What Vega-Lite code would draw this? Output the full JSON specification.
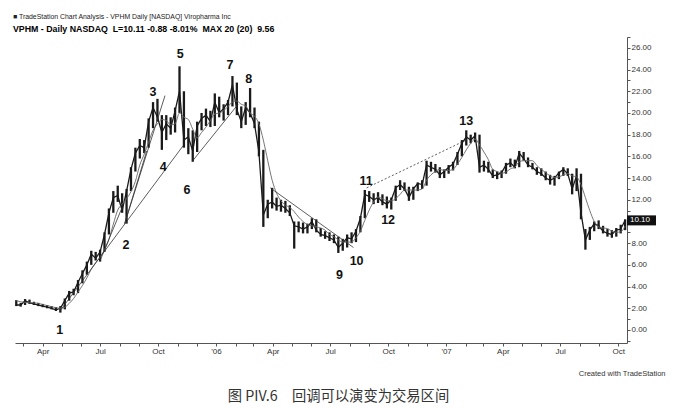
{
"$schema":"https://vega.github.io/schema/vega-lite/v6.json",
"width":612,"height":306,
"autosize":{"type":"none"},
"padding":{"left":15,"top":37,"right":46,"bottom":65},
"background":"white",
"config":{"view":{"stroke":null},"font":"Liberation Sans"},
"title":{"text":"■ TradeStation Chart Analysis - VPHM Daily [NASDAQ] Viropharma Inc","subtitle":"VPHM - Daily NASDAQ \u00a0L=10.11 -0.88 -8.01% \u00a0MAX 20 (20) \u00a09.56","anchor":"start","frame":"group","font":"Liberation Sans","fontSize":6.9,"fontWeight":"normal","color":"#222","subtitleFont":"Liberation Sans","subtitleFontSize":8.8,"subtitleFontWeight":"bold","subtitleColor":"#000","subtitlePadding":4,"offset":2,"dx":-2},
"resolve":{"axis":{"x":"independent","y":"independent"}},
"datasets":{
"prices":[
{"d":"2005-02-18","h":2.75,"l":2.2,"c":2.3,"m":2.7},
{"d":"2005-02-25","h":2.5,"l":2.15,"c":2.3,"m":2.6},
{"d":"2005-03-04","h":2.85,"l":2.3,"c":2.7,"m":2.55},
{"d":"2005-03-11","h":2.8,"l":2.4,"c":2.5,"m":2.5},
{"d":"2005-03-18","h":2.6,"l":2.3,"c":2.4,"m":2.5},
{"d":"2005-03-25","h":2.5,"l":2.2,"c":2.3,"m":2.45},
{"d":"2005-04-01","h":2.4,"l":2.1,"c":2.2,"m":2.35},
{"d":"2005-04-08","h":2.3,"l":2.0,"c":2.1,"m":2.25},
{"d":"2005-04-15","h":2.2,"l":1.9,"c":2.0,"m":2.15},
{"d":"2005-04-22","h":2.1,"l":1.75,"c":1.85,"m":2.05},
{"d":"2005-04-29","h":2.2,"l":1.6,"c":2.0,"m":2.0},
{"d":"2005-05-06","h":2.9,"l":1.9,"c":2.7,"m":2.1},
{"d":"2005-05-13","h":3.6,"l":2.7,"c":3.4,"m":2.45},
{"d":"2005-05-20","h":3.8,"l":3.2,"c":3.5,"m":2.9},
{"d":"2005-05-27","h":4.6,"l":3.4,"c":4.4,"m":3.5},
{"d":"2005-06-03","h":5.5,"l":4.3,"c":5.2,"m":4.1},
{"d":"2005-06-10","h":6.3,"l":5.1,"c":6.0,"m":4.8},
{"d":"2005-06-17","h":7.3,"l":6.0,"c":7.0,"m":5.6},
{"d":"2005-06-24","h":7.2,"l":6.4,"c":6.6,"m":6.2},
{"d":"2005-07-01","h":7.4,"l":6.3,"c":7.2,"m":6.7},
{"d":"2005-07-08","h":9.0,"l":7.2,"c":8.8,"m":7.4},
{"d":"2005-07-15","h":11.2,"l":8.8,"c":10.8,"m":8.35},
{"d":"2005-07-22","h":12.8,"l":10.8,"c":12.2,"m":9.75},
{"d":"2005-07-29","h":13.3,"l":11.8,"c":12.4,"m":11.05},
{"d":"2005-08-05","h":12.6,"l":10.8,"c":11.0,"m":11.6},
{"d":"2005-08-12","h":13.0,"l":9.8,"c":12.8,"m":12.1},
{"d":"2005-08-19","h":15.0,"l":12.8,"c":14.8,"m":12.75},
{"d":"2005-08-26","h":16.8,"l":14.6,"c":16.3,"m":13.7},
{"d":"2005-09-02","h":17.6,"l":15.8,"c":17.0,"m":15.2},
{"d":"2005-09-09","h":17.5,"l":16.3,"c":16.8,"m":16.2},
{"d":"2005-09-16","h":19.5,"l":16.8,"c":19.2,"m":17.3},
{"d":"2005-09-23","h":21.0,"l":18.6,"c":20.5,"m":18.4},
{"d":"2005-09-30","h":21.3,"l":19.2,"c":19.6,"m":19.0},
{"d":"2005-10-07","h":19.8,"l":16.6,"c":18.2,"m":19.4},
{"d":"2005-10-14","h":19.8,"l":17.5,"c":19.0,"m":19.3},
{"d":"2005-10-21","h":19.6,"l":18.0,"c":18.6,"m":18.9},
{"d":"2005-10-28","h":20.5,"l":18.2,"c":20.2,"m":19.0},
{"d":"2005-11-04","h":24.3,"l":20.0,"c":22.0,"m":20.0},
{"d":"2005-11-11","h":22.0,"l":16.8,"c":17.5,"m":19.6},
{"d":"2005-11-18","h":18.6,"l":16.2,"c":17.8,"m":19.4},
{"d":"2005-11-25","h":18.4,"l":15.5,"c":16.5,"m":18.5},
{"d":"2005-12-02","h":19.2,"l":16.4,"c":18.8,"m":17.7},
{"d":"2005-12-09","h":20.0,"l":18.4,"c":19.5,"m":18.2},
{"d":"2005-12-16","h":20.4,"l":18.8,"c":19.8,"m":18.7},
{"d":"2005-12-23","h":20.2,"l":18.7,"c":19.2,"m":19.3},
{"d":"2005-12-30","h":21.8,"l":18.8,"c":21.0,"m":19.9},
{"d":"2006-01-06","h":21.5,"l":19.6,"c":20.0,"m":20.0},
{"d":"2006-01-13","h":20.8,"l":19.3,"c":20.4,"m":20.2},
{"d":"2006-01-20","h":21.2,"l":19.8,"c":21.0,"m":20.6},
{"d":"2006-01-27","h":23.4,"l":20.6,"c":22.6,"m":21.0},
{"d":"2006-02-03","h":22.8,"l":19.8,"c":20.3,"m":21.1},
{"d":"2006-02-10","h":20.6,"l":18.6,"c":19.2,"m":20.8},
{"d":"2006-02-17","h":21.0,"l":18.9,"c":20.5,"m":20.65},
{"d":"2006-02-24","h":22.3,"l":19.6,"c":20.0,"m":20.0},
{"d":"2006-03-03","h":20.5,"l":18.6,"c":19.0,"m":19.7},
{"d":"2006-03-10","h":19.2,"l":16.0,"c":16.4,"m":19.0},
{"d":"2006-03-17","h":16.6,"l":9.5,"c":10.6,"m":17.5},
{"d":"2006-03-24","h":12.0,"l":10.3,"c":11.6,"m":15.6},
{"d":"2006-03-31","h":13.1,"l":11.2,"c":11.8,"m":13.8},
{"d":"2006-04-07","h":12.2,"l":11.0,"c":11.4,"m":12.6},
{"d":"2006-04-14","h":12.0,"l":10.9,"c":11.5,"m":11.9},
{"d":"2006-04-21","h":11.9,"l":10.8,"c":11.2,"m":11.5},
{"d":"2006-04-28","h":11.5,"l":10.5,"c":10.8,"m":11.3},
{"d":"2006-05-05","h":10.0,"l":7.5,"c":9.6,"m":10.9},
{"d":"2006-05-12","h":10.0,"l":9.0,"c":9.5,"m":10.4},
{"d":"2006-05-19","h":9.9,"l":8.9,"c":9.3,"m":10.0},
{"d":"2006-05-26","h":9.8,"l":8.9,"c":9.5,"m":9.7},
{"d":"2006-06-02","h":10.3,"l":9.3,"c":10.0,"m":9.6},
{"d":"2006-06-09","h":10.2,"l":9.0,"c":9.2,"m":9.5},
{"d":"2006-06-16","h":9.4,"l":8.6,"c":8.8,"m":9.4},
{"d":"2006-06-23","h":9.1,"l":8.4,"c":8.7,"m":9.2},
{"d":"2006-06-30","h":9.0,"l":8.2,"c":8.5,"m":8.8},
{"d":"2006-07-07","h":8.8,"l":8.0,"c":8.3,"m":8.6},
{"d":"2006-07-14","h":8.6,"l":7.1,"c":7.6,"m":8.3},
{"d":"2006-07-21","h":8.4,"l":7.3,"c":8.0,"m":8.1},
{"d":"2006-07-28","h":8.8,"l":7.6,"c":8.5,"m":8.1},
{"d":"2006-08-04","h":9.0,"l":8.0,"c":8.4,"m":8.1},
{"d":"2006-08-11","h":9.3,"l":8.1,"c":9.1,"m":8.5},
{"d":"2006-08-18","h":10.5,"l":9.0,"c":10.3,"m":9.1},
{"d":"2006-08-25","h":12.9,"l":10.3,"c":12.5,"m":10.1},
{"d":"2006-09-01","h":12.8,"l":11.8,"c":12.3,"m":11.05},
{"d":"2006-09-08","h":12.6,"l":11.6,"c":12.0,"m":11.8},
{"d":"2006-09-15","h":12.7,"l":11.7,"c":12.2,"m":12.25},
{"d":"2006-09-22","h":12.5,"l":11.5,"c":11.8,"m":12.1},
{"d":"2006-09-29","h":12.3,"l":11.2,"c":11.6,"m":11.9},
{"d":"2006-10-06","h":12.2,"l":11.1,"c":12.0,"m":11.9},
{"d":"2006-10-13","h":13.3,"l":11.9,"c":13.1,"m":12.1},
{"d":"2006-10-20","h":13.8,"l":12.9,"c":13.4,"m":12.5},
{"d":"2006-10-27","h":13.6,"l":12.8,"c":13.0,"m":12.9},
{"d":"2006-11-03","h":13.2,"l":11.9,"c":12.2,"m":12.9},
{"d":"2006-11-10","h":13.2,"l":12.0,"c":13.0,"m":12.9},
{"d":"2006-11-17","h":13.6,"l":12.8,"c":13.5,"m":12.9},
{"d":"2006-11-24","h":13.8,"l":13.0,"c":13.4,"m":13.0},
{"d":"2006-12-01","h":15.6,"l":13.3,"c":15.2,"m":13.8},
{"d":"2006-12-08","h":15.5,"l":14.6,"c":15.0,"m":14.3},
{"d":"2006-12-15","h":15.3,"l":14.5,"c":14.8,"m":14.6},
{"d":"2006-12-22","h":15.0,"l":14.0,"c":14.3,"m":14.8},
{"d":"2006-12-29","h":14.8,"l":14.0,"c":14.6,"m":14.7},
{"d":"2007-01-05","h":15.2,"l":14.4,"c":15.0,"m":14.7},
{"d":"2007-01-12","h":15.5,"l":14.7,"c":15.3,"m":14.8},
{"d":"2007-01-19","h":16.4,"l":15.2,"c":16.2,"m":15.3},
{"d":"2007-01-26","h":17.5,"l":16.0,"c":17.2,"m":15.9},
{"d":"2007-02-02","h":18.4,"l":17.0,"c":17.8,"m":16.6},
{"d":"2007-02-09","h":18.0,"l":17.2,"c":17.5,"m":17.2},
{"d":"2007-02-16","h":18.2,"l":17.3,"c":17.9,"m":17.6},
{"d":"2007-02-23","h":18.0,"l":14.5,"c":15.0,"m":17.05},
{"d":"2007-03-02","h":15.6,"l":14.6,"c":15.2,"m":16.4},
{"d":"2007-03-09","h":15.5,"l":14.5,"c":14.8,"m":15.7},
{"d":"2007-03-16","h":14.8,"l":14.0,"c":14.2,"m":14.8},
{"d":"2007-03-23","h":14.6,"l":13.9,"c":14.3,"m":14.6},
{"d":"2007-03-30","h":14.7,"l":14.0,"c":14.5,"m":14.45},
{"d":"2007-04-06","h":15.4,"l":14.4,"c":15.2,"m":14.55},
{"d":"2007-04-13","h":15.8,"l":15.0,"c":15.4,"m":14.85},
{"d":"2007-04-20","h":15.7,"l":14.9,"c":15.0,"m":15.0},
{"d":"2007-04-27","h":16.5,"l":15.0,"c":16.3,"m":15.5},
{"d":"2007-05-04","h":16.4,"l":15.6,"c":15.8,"m":15.6},
{"d":"2007-05-11","h":15.9,"l":15.0,"c":15.2,"m":15.6},
{"d":"2007-05-18","h":15.4,"l":14.8,"c":15.0,"m":15.6},
{"d":"2007-05-25","h":15.0,"l":14.3,"c":14.6,"m":15.15},
{"d":"2007-06-01","h":14.9,"l":14.2,"c":14.4,"m":14.8},
{"d":"2007-06-08","h":14.6,"l":13.8,"c":14.0,"m":14.5},
{"d":"2007-06-15","h":14.3,"l":13.4,"c":13.8,"m":14.2},
{"d":"2007-06-22","h":14.2,"l":13.3,"c":14.0,"m":14.05},
{"d":"2007-06-29","h":14.6,"l":13.9,"c":14.5,"m":14.1},
{"d":"2007-07-06","h":15.0,"l":14.2,"c":14.8,"m":14.3},
{"d":"2007-07-13","h":14.9,"l":14.2,"c":14.4,"m":14.4},
{"d":"2007-07-20","h":14.4,"l":12.5,"c":13.0,"m":14.2},
{"d":"2007-07-27","h":14.9,"l":12.8,"c":14.2,"m":14.1},
{"d":"2007-08-03","h":14.4,"l":10.2,"c":10.8,"m":13.4},
{"d":"2007-08-10","h":9.3,"l":7.4,"c":8.3,"m":12.2},
{"d":"2007-08-17","h":9.5,"l":8.3,"c":9.2,"m":11.0},
{"d":"2007-08-24","h":10.0,"l":9.1,"c":9.8,"m":10.0},
{"d":"2007-08-31","h":10.1,"l":9.3,"c":9.6,"m":9.5},
{"d":"2007-09-07","h":9.6,"l":8.9,"c":9.1,"m":9.4},
{"d":"2007-09-14","h":9.3,"l":8.6,"c":8.9,"m":9.35},
{"d":"2007-09-21","h":9.2,"l":8.5,"c":8.8,"m":9.1},
{"d":"2007-09-28","h":9.4,"l":8.6,"c":9.2,"m":9.0},
{"d":"2007-10-05","h":9.7,"l":8.9,"c":9.3,"m":9.05},
{"d":"2007-10-12","h":10.2,"l":9.2,"c":10.11,"m":9.56}
],
"trend":[
{"g":"a","d":"2005-04-27","v":1.65},{"g":"a","d":"2005-11-10","v":17.0},
{"g":"b","d":"2005-07-01","v":6.4},{"g":"b","d":"2005-08-05","v":11.3},
{"g":"c","d":"2005-08-09","v":9.8},{"g":"c","d":"2005-10-12","v":21.6},
{"g":"d","d":"2005-08-09","v":9.8},{"g":"d","d":"2005-09-13","v":16.5},
{"g":"e","d":"2005-11-25","v":15.6},{"g":"e","d":"2006-02-05","v":20.8},
{"g":"f","d":"2006-03-28","v":13.1},{"g":"f","d":"2006-08-07","v":7.6}
],
"dashed":[
{"d":"2006-08-28","v":13.1},{"d":"2007-01-31","v":17.45}
],
"labels":[
{"d":"2005-04-28","v":0.0,"t":"1"},
{"d":"2005-08-11","v":7.8,"t":"2"},
{"d":"2005-09-23","v":21.9,"t":"3"},
{"d":"2005-10-09","v":15.0,"t":"4"},
{"d":"2005-11-05","v":25.4,"t":"5"},
{"d":"2005-11-16","v":12.9,"t":"6"},
{"d":"2006-01-23","v":24.4,"t":"7"},
{"d":"2006-02-22","v":23.1,"t":"8"},
{"d":"2006-07-16","v":5.1,"t":"9"},
{"d":"2006-08-12","v":6.4,"t":"10"},
{"d":"2006-08-27","v":13.7,"t":"11"},
{"d":"2006-10-01","v":10.1,"t":"12"},
{"d":"2007-02-02","v":19.3,"t":"13"}
],
"last":[
{"d1":"2007-10-15","d2":"2007-11-30","v":10.1,"t":"10.10"}
]
},
"layer":[
{"data":{"name":"prices"},
 "mark":{"type":"rule","strokeWidth":2.3,"color":"#1a1a1a"},
 "encoding":{
  "x":{"field":"d","type":"temporal",
   "scale":{"type":"utc","domain":[{"year":2005,"month":2,"date":16,"utc":true},{"year":2007,"month":10,"date":15,"utc":true}]},
   "axis":{"orient":"bottom","values":[
     {"year":2005,"month":3,"date":1,"utc":true},{"year":2005,"month":4,"date":1,"utc":true},{"year":2005,"month":5,"date":1,"utc":true},{"year":2005,"month":6,"date":1,"utc":true},{"year":2005,"month":7,"date":1,"utc":true},{"year":2005,"month":8,"date":1,"utc":true},{"year":2005,"month":9,"date":1,"utc":true},{"year":2005,"month":10,"date":1,"utc":true},{"year":2005,"month":11,"date":1,"utc":true},{"year":2005,"month":12,"date":1,"utc":true},
     {"year":2006,"month":1,"date":1,"utc":true},{"year":2006,"month":2,"date":1,"utc":true},{"year":2006,"month":3,"date":1,"utc":true},{"year":2006,"month":4,"date":1,"utc":true},{"year":2006,"month":5,"date":1,"utc":true},{"year":2006,"month":6,"date":1,"utc":true},{"year":2006,"month":7,"date":1,"utc":true},{"year":2006,"month":8,"date":1,"utc":true},{"year":2006,"month":9,"date":1,"utc":true},{"year":2006,"month":10,"date":1,"utc":true},{"year":2006,"month":11,"date":1,"utc":true},{"year":2006,"month":12,"date":1,"utc":true},
     {"year":2007,"month":1,"date":1,"utc":true},{"year":2007,"month":2,"date":1,"utc":true},{"year":2007,"month":3,"date":1,"utc":true},{"year":2007,"month":4,"date":1,"utc":true},{"year":2007,"month":5,"date":1,"utc":true},{"year":2007,"month":6,"date":1,"utc":true},{"year":2007,"month":7,"date":1,"utc":true},{"year":2007,"month":8,"date":1,"utc":true},{"year":2007,"month":9,"date":1,"utc":true},{"year":2007,"month":10,"date":1,"utc":true}],
    "labels":false,"grid":false,"tickSize":3,"tickColor":"#555","domainColor":"#555","title":null}},
  "y":{"field":"l","type":"quantitative",
   "scale":{"domain":[-1.2,27],"nice":false,"zero":false},
   "axis":{"orient":"right","values":[-1,0,1,2,3,4,5,6,7,8,9,10,11,12,13,14,15,16,17,18,19,20,21,22,23,24,25,26,27],
    "labels":false,"grid":false,"tickSize":3,"tickColor":"#555","domainColor":"#555","title":null}},
  "y2":{"field":"h"}
 }},
{"data":{"name":"prices"},
 "mark":{"type":"line","strokeWidth":1.3,"color":"#1a1a1a"},
 "encoding":{
  "x":{"field":"d","type":"temporal",
   "axis":{"orient":"bottom","values":[
     {"year":2005,"month":4,"date":1,"utc":true},{"year":2005,"month":7,"date":1,"utc":true},{"year":2005,"month":10,"date":1,"utc":true},{"year":2006,"month":1,"date":1,"utc":true},{"year":2006,"month":4,"date":1,"utc":true},{"year":2006,"month":7,"date":1,"utc":true},{"year":2006,"month":10,"date":1,"utc":true},{"year":2007,"month":1,"date":1,"utc":true},{"year":2007,"month":4,"date":1,"utc":true},{"year":2007,"month":7,"date":1,"utc":true},{"year":2007,"month":10,"date":1,"utc":true}],
    "labelExpr":"utcmonth(datum.value)==0 ? \"'\" + utcFormat(datum.value,'%y') : utcFormat(datum.value,'%b')",
    "labelOverlap":false,"labelFlush":false,"grid":false,"domain":false,"ticks":false,"labelFontSize":8,"labelColor":"#333","labelPadding":4,
    "title":"图 PIV.6　回调可以演变为交易区间","titleFont":"Noto Sans CJK SC","titleFontSize":14.3,"titleFontWeight":"normal","titleColor":"#333","titleX":323,"titleY":53,"titleAlign":"center","titleBaseline":"middle"}},
  "y":{"field":"c","type":"quantitative",
   "axis":{"orient":"right","values":[0,2,4,6,8,12,14,16,18,20,22,24,26],"format":".2f",
    "labelOverlap":false,"grid":false,"domain":false,"ticks":false,"labelFontSize":8,"labelColor":"#333","labelPadding":4,
    "title":"Created with TradeStation","titleAngle":0,"titleX":38,"titleY":336,"titleAlign":"right","titleBaseline":"middle","titleFontSize":7.5,"titleFontWeight":"normal","titleColor":"#333"}}}},
{"data":{"name":"prices"},
 "mark":{"type":"line","strokeWidth":0.9,"color":"#666","interpolate":"monotone"},
 "encoding":{"x":{"field":"d","type":"temporal","axis":null},"y":{"field":"m","type":"quantitative","axis":null}}},
{"data":{"name":"trend"},
 "mark":{"type":"line","strokeWidth":0.8,"color":"#333"},
 "encoding":{"x":{"field":"d","type":"temporal","axis":null},"y":{"field":"v","type":"quantitative","axis":null},"detail":{"field":"g"}}},
{"data":{"name":"dashed"},
 "mark":{"type":"line","strokeWidth":0.8,"color":"#333","strokeDash":[2,2]},
 "encoding":{"x":{"field":"d","type":"temporal","axis":null},"y":{"field":"v","type":"quantitative","axis":null}}},
{"data":{"name":"labels"},
 "mark":{"type":"text","font":"Liberation Sans","fontWeight":"bold","fontSize":12.5,"color":"#111","align":"center","baseline":"middle"},
 "encoding":{"x":{"field":"d","type":"temporal","axis":null},"y":{"field":"v","type":"quantitative","axis":null},"text":{"field":"t"}}},
{"data":{"name":"last"},
 "mark":{"type":"rule","strokeWidth":10,"color":"#111","clip":false},
 "encoding":{"x":{"field":"d1","type":"temporal","axis":null},"x2":{"field":"d2"},"y":{"field":"v","type":"quantitative","axis":null}}},
{"data":{"name":"last"},
 "mark":{"type":"text","font":"Liberation Sans","fontSize":8,"color":"white","align":"left","baseline":"middle","dx":3,"clip":false},
 "encoding":{"x":{"field":"d1","type":"temporal","axis":null},"y":{"field":"v","type":"quantitative","axis":null},"text":{"field":"t"}}}
]
}
